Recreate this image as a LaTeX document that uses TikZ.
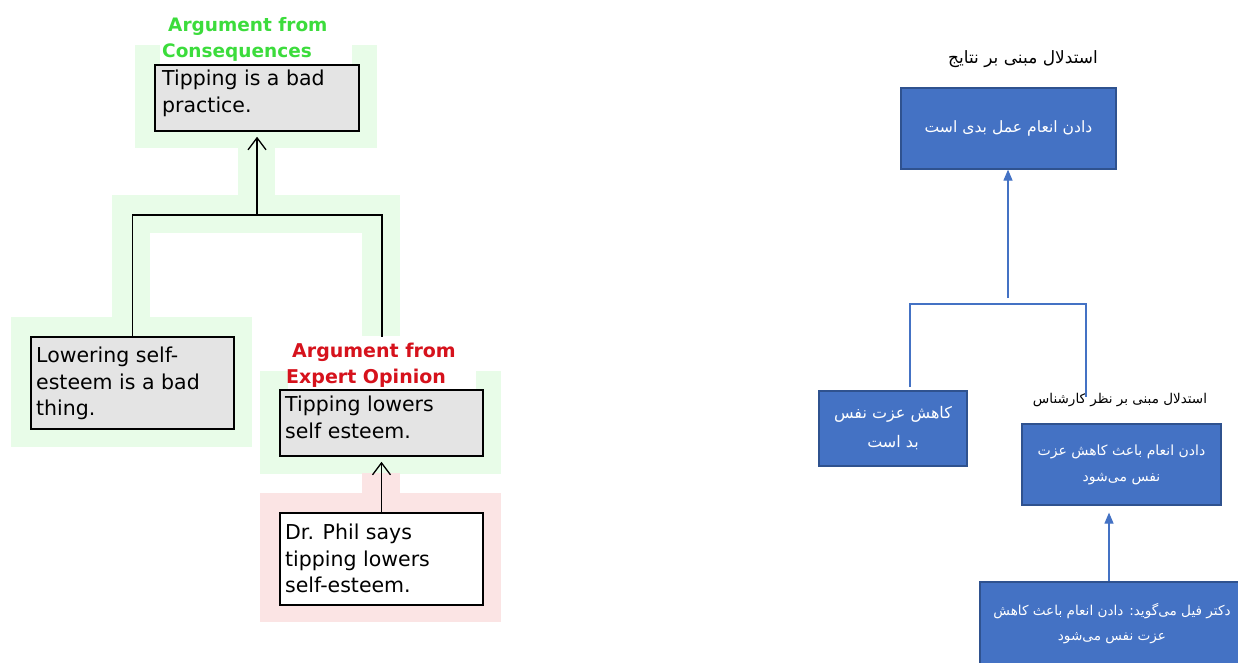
\documentclass[tikz,border=0pt]{standalone}
\usepackage{fontspec}
\setmainfont{DejaVu Sans}
\newfontfamily\arabicfont[Script=Arabic]{DejaVu Sans}
\TeXXeTstate=1
\usetikzlibrary{arrows.meta}
\definecolor{bggreen}{HTML}{E8FCE8}
\definecolor{bgpink}{HTML}{FBE4E4}
\definecolor{boxgray}{HTML}{E4E4E4}
\definecolor{lblgreen}{HTML}{3CDC3C}
\definecolor{lblred}{HTML}{D6121C}
\definecolor{bluefill}{HTML}{4472C4}
\definecolor{blueedge}{HTML}{2F528F}
\begin{document}
\begin{tikzpicture}[x=1pt,y=-1pt,
  graybox/.style={draw=black,line width=1.5pt,fill=boxgray,inner sep=0pt},
  whitebox/.style={draw=black,line width=1.5pt,fill=white,inner sep=0pt},
  boxtext/.style={anchor=north west,inner sep=0pt,align=left,font=\fontsize{20.5}{26.5}\selectfont},
  schemelabel/.style={anchor=north west,inner sep=0pt,align=left,font=\bfseries\fontsize{19}{26}\selectfont},
  conn/.style={draw=black,line width=1.5pt},
  barb/.style={-{Straight Barb[length=12pt,width=18pt,line width=1.3pt]}},
  bluebox/.style={draw=blueedge,line width=1.2pt,fill=bluefill,inner sep=0pt,text=white,align=center},
  arfont/.style 2 args={font=\arabicfont\fontsize{#1}{#2}\selectfont},
  arlabel/.style={inner sep=0pt},
  bline/.style={draw=bluefill,line width=1.2pt},
  tri/.style={-{Triangle[length=11pt,width=9pt]}}]
\useasboundingbox (0,0) rectangle (1238,662);
\clip (0,0) rectangle (1238,662);
% ---------- left: backgrounds ----------
\fill[bggreen] (135,45) rectangle (377,148);
\fill[bggreen] (238,147) rectangle (275,196);
\fill[bggreen] (112,195) rectangle (400,233);
\fill[bggreen] (112,232) rectangle (150,318);
\fill[bggreen] (362,232) rectangle (400,336);
\fill[bggreen] (11,317) rectangle (252,447);
\fill[bggreen] (260,371) rectangle (501,474);
\fill[bgpink] (362,473) rectangle (400,494);
\fill[bgpink] (260,493) rectangle (501,622);
\fill[white] (160,40) rectangle (352,65);
\fill[white] (288,336) rectangle (476,390);
% ---------- left: boxes ----------
\node[graybox,minimum width=204,minimum height=66] (top) at (257,98) {};
\node[graybox,minimum width=203,minimum height=92] (lower) at (132.5,383) {};
\node[graybox,minimum width=203,minimum height=66] (expert) at (381.5,423) {};
\node[whitebox,minimum width=203,minimum height=92] (phil) at (381.5,559) {};
\node[boxtext] (toptext) at (162,70) {Tipping is a bad\\practice.};
\node[boxtext] (lowertext) at (36,347) {Lowering self-\\esteem is a bad\\thing.};
\node[boxtext] (experttext) at (285,396) {Tipping lowers\\self esteem.};
\node[boxtext] (philtext) at (285,524) {Dr. Phil says\\tipping lowers\\self-esteem.};
\node[schemelabel,text=lblgreen,font=\bfseries\fontsize{18.5}{26}\selectfont] (conslabel) at (162,17) {\hspace{6pt}Argument from\\Consequences};
\node[schemelabel,text=lblred] (explabel) at (286,343) {\hspace{6pt}Argument from\\Expert Opinion};
% ---------- left: connectors ----------
\coordinate (jl) at (257,215);
\coordinate (rb) at (382,337);
\draw[conn] (lower.north) |- (jl) -| (rb);
\draw[conn,barb,shorten >=5pt] (jl) -- (jl |- top.south);
\draw[conn,barb,shorten >=5pt] (phil.north) -- (expert.south);
% ---------- right ----------
\node[arlabel,arfont={17}{20}] (rtitle) at (1023,59) {\beginR استدلال مبنی بر نتایج\endR};
\node[bluebox,arfont={15.6}{27},minimum width=215,minimum height=81] (btop) at (1008.5,128.5) {\beginR دادن انعام عمل بدی است\endR};
\node[bluebox,arfont={16}{29},minimum width=148,minimum height=75] (bleft) at (893,428.5) {\beginR کاهش عزت نفس\endR\\\beginR بد است\endR};
\node[arlabel,arfont={13.5}{20}] (rlabel) at (1120,400) {\beginR استدلال مبنی بر نظر کارشناس\endR};
\node[bluebox,arfont={14}{26},minimum width=199,minimum height=81] (bexp) at (1121.5,464.5) {\beginR دادن انعام باعث کاهش عزت\endR\\\beginR نفس می‌شود\endR};
\node[bluebox,arfont={13.6}{25},minimum width=264,minimum height=84] (bphil) at (1112,624) {\beginR دکتر فیل می‌گوید: دادن انعام باعث کاهش\endR\\\beginR عزت نفس می‌شود\endR};
\coordinate (bj) at (1008,298);
\coordinate (bkt) at (1008,304);
\coordinate (bcl) at (910,387);
\coordinate (bcr) at (1086,397);
\coordinate (bx) at (1109,0);
\draw[bline,tri] (bj) -- (bj |- btop.south);
\draw[bline] (bcl) |- (bkt) -| (bcr);
\draw[bline,tri,shorten >=7pt] (bphil.north -| bx) -- (bexp.south -| bx);
\end{tikzpicture}
\end{document}
